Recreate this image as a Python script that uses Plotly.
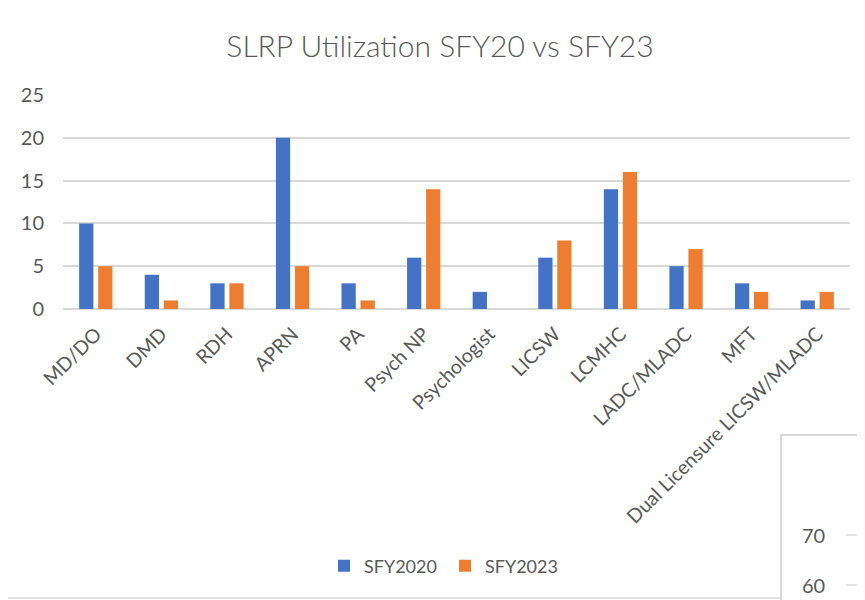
import plotly.graph_objects as go

categories = ["MD/DO", "DMD", "RDH", "APRN", "PA", "Psych NP", "Psychologist",
              "LICSW", "LCMHC", "LADC/MLADC", "MFT", "Dual Licensure LICSW/MLADC"]
sfy2020 = [10, 4, 3, 20, 3, 6, 2, 6, 14, 5, 3, 1]
sfy2023 = [5, 1, 3, 5, 1, 14, 0, 8, 16, 7, 2, 2]
y_ticks = [0, 5, 10, 15, 20, 25]
inset_ticks = ["70", "60"]

OFF = 8  # page body margin
W, H = 865 - OFF, 600 - OFF
# plot area in screen px
L, R, T, B = 63, 850, 95, 309

def px(x):
    return (x - L) / (R - L)

def py(y):
    return (B - y) / (B - T)

FONT = "Lato"
GRAY = "#595959"
GRID = "#D9D9D9"

fig = go.Figure()
fig.add_trace(go.Bar(x=categories, y=sfy2020, name="SFY2020",
                     marker=dict(color="#4472C4", line=dict(width=0))))
fig.add_trace(go.Bar(x=categories, y=sfy2023, name="SFY2023",
                     marker=dict(color="#ED7D31", line=dict(width=0))))

shapes = [
    # outer chart border
    dict(type="rect", xref="paper", yref="paper", x0=px(6), x1=px(900), y0=py(5), y1=py(598),
         line=dict(color=GRID, width=1.5), fillcolor="rgba(0,0,0,0)", layer="below"),
    # overlapping inset chart box
    dict(type="rect", xref="paper", yref="paper", x0=px(781), x1=px(900), y0=py(435), y1=py(640),
         line=dict(color=GRID, width=2), fillcolor="white", layer="above"),
]
annotations = []
for i, t in enumerate(inset_ticks):
    yy = 535 + 50 * i
    shapes.append(dict(type="line", xref="paper", yref="paper", x0=px(846), x1=px(900),
                       y0=py(yy), y1=py(yy), line=dict(color=GRID, width=1.5), layer="above"))
    annotations.append(dict(text=t, xref="paper", yref="paper", x=px(827), y=py(yy),
                            xanchor="right", yanchor="middle", showarrow=False,
                            font=dict(family=FONT, size=20, color=GRAY)))

fig.update_layout(
    width=W, height=H,
    margin=dict(l=L - OFF, r=W - (R - OFF), t=T - OFF, b=H - (B - OFF), autoexpand=False),
    paper_bgcolor="white", plot_bgcolor="white",
    title=dict(text="SLRP Utilization SFY20 vs SFY23", x=px(440), xref="paper", xanchor="center",
               y=1 - (46 - OFF) / H, yanchor="middle", automargin=False,
               font=dict(family=FONT, size=30, color=GRAY, weight=300)),
    barmode="group", bargap=0.42, bargroupgap=0.25,
    font=dict(family=FONT, size=18, color=GRAY),
    xaxis=dict(tickangle=-45, showgrid=False, showline=False, ticks="", automargin=False,
               ticklabelstandoff=9,
               tickfont=dict(family=FONT, size=19.5, color=GRAY)),
    yaxis=dict(range=[0, 25], tickvals=y_ticks, showgrid=True, gridcolor=GRID, gridwidth=2,
               zeroline=True, zerolinecolor=GRID, zerolinewidth=2, showline=False, ticks="",
               automargin=False, ticklabelstandoff=18,
               tickfont=dict(family=FONT, size=20, color=GRAY)),
    legend=dict(orientation="h", x=px(445), xanchor="center", y=py(566), yanchor="middle",
                font=dict(family=FONT, size=18, color=GRAY), itemwidth=30,
                entrywidth=76, entrywidthmode="pixels", traceorder="normal"),
    shapes=shapes, annotations=annotations,
)

fig.write_html("out.html")
